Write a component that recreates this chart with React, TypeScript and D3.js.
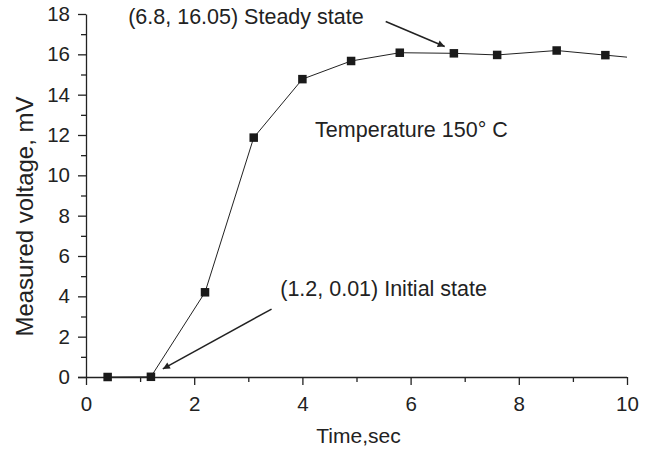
import * as d3 from "d3";
import React, { useRef, useEffect } from "react";

const W = 653;
const H = 449;
const margin = { top: 14, right: 26, bottom: 72, left: 86 };
const width = W - margin.left - margin.right;
const height = H - margin.top - margin.bottom;

const times = [0.4, 1.2, 2.2, 3.1, 4.0, 4.9, 5.8, 6.8, 7.6, 8.7, 9.6];
const voltages = [0.0, 0.01, 4.2, 11.87, 14.77, 15.67, 16.08, 16.05, 15.97, 16.19, 15.96];
// line runs on to the frame edge without a marker
const tailTime = 10;
const tailVoltage = 15.86;

const xTicks = [0, 2, 4, 6, 8, 10];
const yTicks = [0, 2, 4, 6, 8, 10, 12, 14, 16, 18];

const notes = [
  { text: "(6.8, 16.05) Steady state", x: 0.78, y: 17.5, from: [5.54, 17.63], to: [6.63, 16.39] },
  { text: "(1.2, 0.01) Initial state", x: 3.59, y: 4.03, from: [3.43, 3.37], to: [1.42, 0.4] },
];
const tempLabel = { text: "Temperature 150\u00b0 C", x: 4.235, y: 11.91 };

const font = "'Liberation Sans', Arial, Helvetica, sans-serif";

function App() {
  const ref = useRef<SVGSVGElement>(null);

  useEffect(() => {
    const svg = d3.select(ref.current);
    svg.selectAll("*").remove();

    const x = d3.scaleLinear().domain([0, 10]).range([0, width]);
    const y = d3.scaleLinear().domain([0, 18]).range([height, 0]);

    svg
      .append("defs")
      .append("marker")
      .attr("id", "arrow")
      .attr("viewBox", "0 0 10 10")
      .attr("refX", 10)
      .attr("refY", 5)
      .attr("markerWidth", 14)
      .attr("markerHeight", 7)
      .attr("markerUnits", "userSpaceOnUse")
      .attr("orient", "auto")
      .append("path")
      .attr("d", "M0,0 L10,5 L0,10 z")
      .attr("fill", "#222");

    const g = svg.append("g").attr("transform", `translate(${margin.left},${margin.top})`);

    // x axis with minor ticks
    g.append("g")
      .attr("transform", `translate(0,${height})`)
      .call(d3.axisBottom(x).tickValues(d3.range(1, 10, 2)).tickSize(5).tickFormat(() => ""))
      .call((s) => s.select(".domain").remove());
    const xMajor = g.append("g").attr("transform", `translate(0,${height})`);
    xMajor.call(d3.axisBottom(x).tickValues(xTicks).tickSize(8).tickSizeOuter(0).tickPadding(11));
    xMajor.select(".domain").attr("d", `M${-8},0.5H${width}`);

    // y axis with minor ticks
    g.append("g")
      .call(d3.axisLeft(y).tickValues(d3.range(1, 18, 2)).tickSize(5).tickFormat(() => ""))
      .call((s) => s.select(".domain").remove());
    g.append("g").call(d3.axisLeft(y).tickValues(yTicks).tickSize(8).tickSizeOuter(0).tickPadding(8));

    g.selectAll(".tick line, .domain").attr("stroke", "#222").attr("stroke-width", 1.3);
    g.selectAll(".tick text")
      .attr("font-family", font)
      .attr("font-size", 20.5)
      .attr("fill", "#222");

    // axis titles
    g.append("text")
      .attr("x", width / 2 + 2)
      .attr("y", height + 66)
      .attr("text-anchor", "middle")
      .attr("font-family", font)
      .attr("font-size", 21)
      .attr("fill", "#222")
      .text("Time,sec");
    g.append("text")
      .attr("transform", `translate(${-53},${height / 2 + 21}) rotate(-90)`)
      .attr("text-anchor", "middle")
      .attr("font-family", font)
      .attr("font-size", 24)
      .attr("fill", "#222")
      .text("Measured voltage, mV");

    // data line
    const pts: [number, number][] = times.map((t, i) => [t, voltages[i]]);
    const line = d3
      .line<[number, number]>()
      .x((d) => x(d[0]))
      .y((d) => y(d[1]));
    g.append("path")
      .datum([...pts, [tailTime, tailVoltage] as [number, number]])
      .attr("d", line)
      .attr("fill", "none")
      .attr("stroke", "#222")
      .attr("stroke-width", 1);

    const sz = 8.5;
    g.selectAll("rect.pt")
      .data(pts)
      .join("rect")
      .attr("class", "pt")
      .attr("x", (d) => x(d[0]) - sz / 2)
      .attr("y", (d) => y(d[1]) - sz / 2)
      .attr("width", sz)
      .attr("height", sz)
      .attr("fill", "#1a1a1a");

    // annotations
    notes.forEach((n) => {
      g.append("text")
        .attr("x", x(n.x))
        .attr("y", y(n.y))
        .attr("font-family", font)
        .attr("font-size", 21.5)
        .attr("fill", "#222")
        .text(n.text);
      g.append("line")
        .attr("x1", x(n.from[0]))
        .attr("y1", y(n.from[1]))
        .attr("x2", x(n.to[0]))
        .attr("y2", y(n.to[1]))
        .attr("stroke", "#222")
        .attr("stroke-width", 1.5)
        .attr("marker-end", "url(#arrow)");
    });

    g.append("text")
      .attr("x", x(tempLabel.x))
      .attr("y", y(tempLabel.y))
      .attr("font-family", font)
      .attr("font-size", 21.5)
      .attr("fill", "#222")
      .text(tempLabel.text);
  }, []);

  return (
    <svg
      ref={ref}
      width={W}
      height={H}
      style={{ position: "absolute", left: 0, top: 0, display: "block", background: "#fff" }}
    />
  );
}

export default App;
